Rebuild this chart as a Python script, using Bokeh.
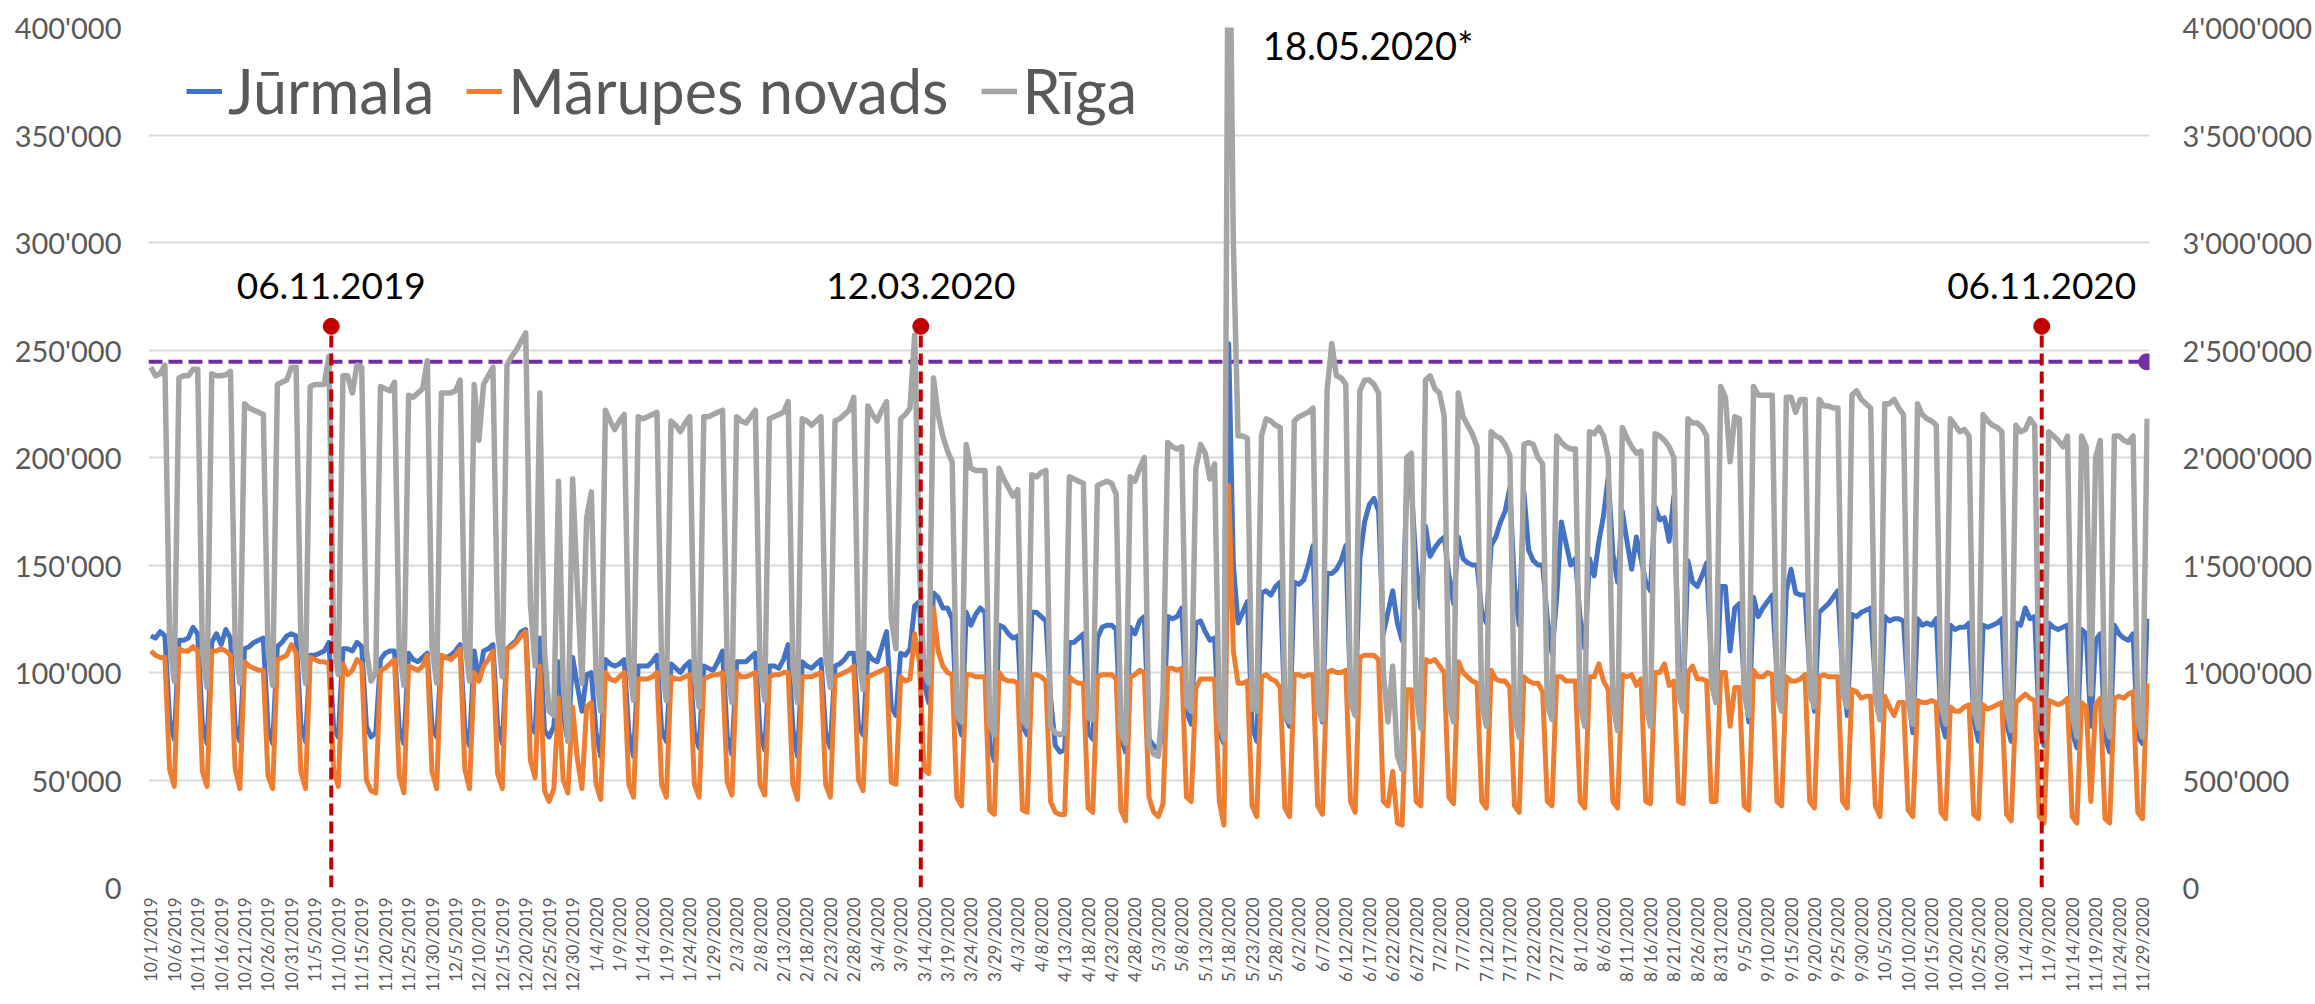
import math
import datetime as dt
from bokeh.plotting import figure
from bokeh.models import (Range1d, LinearAxis, FixedTicker, Legend, LegendItem,
                          ColumnDataSource)
from bokeh.embed import file_html
from bokeh.resources import INLINE
from bokeh.core.properties import value

# ---------------- data (thousands) ----------------
# daily values from Tue 01.10.2019 to Mon 30.11.2020, one line = one week (Mon..Sun)
jurmala = [
    117,116,119,117,78,69,
    115,115,116,121,118,76,67,
    114,118,113,120,116,75,68,
    111,112,114,115,116,74,67,
    112,114,117,118,117,76,68,
    108,108,109,110,114,74,70,
    111,111,110,114,112,75,70,
    72,106,109,110,110,74,67,
    109,106,105,107,109,75,70,
    107,107,108,110,113,74,66,
    110,96,110,111,113,75,67,
    111,113,115,119,120,75,72,
    116,73,70,75,105,80,68,
    107,94,82,99,100,72,61,
    106,104,103,104,106,72,61,
    103,103,103,105,108,73,68,
    104,102,100,103,105,72,65,
    103,102,101,105,110,70,62,
    105,105,105,107,109,72,64,
    103,103,102,106,113,74,61,
    105,103,102,104,106,72,65,
    103,104,106,109,109,75,71,
    109,106,105,112,119,84,80,
    109,108,111,131,133,95,86,
    137,135,130,130,125,80,71,
    128,122,127,130,128,66,59,
    122,121,118,116,117,75,71,
    128,128,126,124,88,66,63,
    64,114,114,116,118,72,69,
    116,121,122,122,120,70,63,
    121,118,124,126,69,66,64,
    72,126,125,126,130,82,76,
    123,124,119,115,116,72,67,
    253,150,123,128,133,75,68,
    137,138,136,140,142,80,75,
    142,141,143,150,159,85,77,
    146,146,148,152,159,90,84,
    153,170,178,181,175,118,128,
    138,123,115,188,185,150,130,
    168,154,158,161,163,145,132,
    163,153,151,150,150,128,123,
    159,163,170,175,186,140,122,
    184,157,152,150,150,125,109,
    135,170,160,150,153,125,111,
    153,145,161,173,191,155,142,
    175,161,148,163,153,142,138,
    177,171,172,161,182,110,88,
    152,142,140,145,151,105,86,
    140,140,110,130,132,95,77,
    135,126,130,133,136,100,84,
    138,148,137,136,136,100,82,
    128,130,132,135,138,100,80,
    127,126,128,129,130,95,78,
    126,124,125,125,124,90,72,
    125,122,123,122,125,78,70,
    122,120,121,121,123,78,68,
    122,121,122,123,125,76,68,
    123,122,130,125,126,74,66,
    123,121,120,121,122,72,65,
    120,118,75,115,118,70,63,
    122,118,116,115,118,70,67,
    125,
]

marupe = [
    110,108,107,107,55,47,
    111,110,110,112,110,54,47,
    110,110,111,110,108,55,46,
    105,103,102,101,101,52,46,
    106,107,108,113,109,54,46,
    107,106,105,105,104,55,47,
    104,99,101,106,104,50,45,
    44,101,102,104,106,52,44,
    103,102,101,103,108,54,46,
    108,107,106,108,111,55,46,
    100,96,103,106,110,53,46,
    111,112,114,117,119,59,51,
    103,45,40,46,88,50,44,
    84,60,46,84,86,48,41,
    100,97,96,98,100,48,42,
    97,97,97,98,100,48,42,
    98,97,97,98,99,48,42,
    97,98,99,99,100,49,43,
    100,98,98,99,100,48,43,
    98,99,99,100,100,48,41,
    98,98,98,99,100,48,42,
    98,99,100,101,103,50,45,
    98,99,100,101,102,49,48,
    98,96,97,118,105,55,53,
    130,110,103,100,99,42,38,
    99,99,98,98,98,36,34,
    100,97,96,96,95,36,35,
    99,99,98,96,40,35,34,
    34,98,96,95,95,37,35,
    98,99,99,99,97,36,31,
    98,99,101,100,42,35,33,
    39,102,102,101,102,42,40,
    93,97,97,97,97,40,29,
    187,110,95,95,96,38,33,
    98,99,97,96,93,37,33,
    99,99,98,99,99,38,34,
    100,101,100,100,101,40,35,
    107,108,108,108,106,40,38,
    54,30,29,92,92,40,38,
    106,105,106,103,100,42,39,
    105,100,98,96,95,40,37,
    101,97,96,96,93,38,35,
    98,96,95,95,91,40,38,
    98,98,96,96,96,40,37,
    98,98,104,96,92,40,37,
    99,98,99,94,97,40,39,
    100,100,104,94,96,40,39,
    100,103,97,97,96,40,40,
    100,100,75,93,93,38,36,
    101,98,98,100,99,40,38,
    98,96,96,97,99,40,37,
    98,99,98,98,98,40,37,
    92,91,88,89,89,38,33,
    89,84,80,86,86,36,33,
    87,86,86,87,86,35,32,
    84,82,82,84,85,34,32,
    85,83,84,85,86,34,31,
    86,88,90,88,87,33,30,
    87,86,85,86,88,33,30,
    86,84,40,85,88,32,30,
    88,89,88,90,91,35,32,
    95,
]

riga = [
    2420,2380,2390,2430,1150,960,
    2370,2380,2380,2410,2410,1100,930,
    2390,2380,2380,2385,2400,1120,950,
    2250,2230,2220,2210,2200,1100,940,
    2340,2350,2360,2420,2420,1150,950,
    2330,2340,2340,2340,2470,1150,990,
    2380,2380,2300,2430,2420,1100,960,
    1000,2330,2320,2310,2350,1100,940,
    2290,2280,2300,2320,2450,1120,950,
    2300,2300,2300,2310,2360,1150,960,
    2340,2080,2340,2380,2420,1200,980,
    2430,2470,2500,2540,2580,1320,1030,
    2300,1100,820,800,1890,950,680,
    1900,1400,950,1720,1840,1000,820,
    2220,2170,2130,2170,2200,1050,870,
    2190,2180,2190,2200,2210,1030,870,
    2170,2150,2120,2160,2190,1000,840,
    2190,2190,2200,2210,2220,1020,860,
    2190,2170,2160,2190,2220,1020,870,
    2180,2190,2200,2210,2260,1030,860,
    2180,2170,2150,2170,2190,1080,930,
    2170,2180,2200,2220,2280,1080,920,
    2240,2200,2170,2220,2260,1250,1110,
    2180,2200,2230,2570,1500,1000,950,
    2370,2200,2100,2030,1980,800,770,
    2060,1950,1940,1940,1940,760,710,
    1950,1900,1860,1820,1850,780,750,
    1920,1910,1930,1940,750,720,710,
    720,1910,1900,1890,1880,790,780,
    1870,1880,1890,1880,1830,720,670,
    1910,1890,1950,2000,660,620,610,
    900,2070,2050,2040,2050,850,820,
    1950,2060,2020,1900,1970,780,690,
    5000,3000,2100,2100,2090,830,820,
    2100,2180,2170,2150,2140,800,770,
    2170,2190,2200,2210,2230,830,780,
    2310,2530,2380,2370,2340,860,800,
    2310,2360,2360,2340,2300,1000,770,
    1030,610,550,2000,2020,900,740,
    2360,2380,2320,2300,2190,850,770,
    2300,2190,2150,2110,2050,850,750,
    2120,2100,2090,2060,2010,800,700,
    2060,2070,2060,2000,1970,850,780,
    2100,2070,2050,2040,2040,850,750,
    2120,2110,2140,2100,2000,850,730,
    2140,2090,2050,2020,2030,850,750,
    2110,2100,2080,2050,2000,900,820,
    2180,2160,2160,2140,2100,950,860,
    2330,2280,1980,2190,2180,900,800,
    2330,2290,2290,2290,2290,900,820,
    2280,2280,2210,2270,2270,900,840,
    2270,2240,2240,2230,2230,900,840,
    2290,2310,2270,2250,2230,880,780,
    2250,2250,2270,2230,2200,850,760,
    2250,2200,2180,2170,2150,850,760,
    2180,2150,2120,2130,2100,830,740,
    2200,2170,2150,2140,2120,830,730,
    2150,2120,2130,2180,2150,820,700,
    2120,2100,2080,2050,2100,800,700,
    2100,2050,900,2000,2080,780,700,
    2100,2100,2080,2070,2100,780,700,
    2180,
]

series_names = ["Jūrmala", "Mārupes novads", "Rīga"]
left_ticks = [0, 50000, 100000, 150000, 200000, 250000, 300000, 350000, 400000]
right_ticks = [0, 500000, 1000000, 1500000, 2000000, 2500000, 3000000, 3500000, 4000000]

# annotations (day index from 01.10.2019, left-axis value)
mark_x = [38.5, 164.3, 403.5]
mark_text = ["06.11.2019", "12.03.2020", "06.11.2020"]
mark_top = 261000
threshold = 244500          # purple level (left axis units) = 2'445'000 on right axis
spike_text = "18.05.2020*"
spike_x = 237.3
spike_y = 392000

FONT = "Lato"
GREY = "#595959"

n = len(jurmala)
start = dt.date(2019, 10, 1)
dates = [start + dt.timedelta(days=i) for i in range(n)]
xlab = {i: f"{d.month}/{d.day}/{d.year}" for i, d in enumerate(dates) if i % 5 == 0}

def fmt(v):
    return f"{v:,}".replace(",", "'")

src = ColumnDataSource(dict(
    x=list(range(n)),
    j=[v * 1000 for v in jurmala],
    m=[v * 1000 for v in marupe],
    r=[v * 1000 for v in riga],
))

W, H = 2315, 1004
p = figure(width=W, height=H, output_backend="svg", toolbar_location=None,
           x_range=Range1d(-0.5, n - 0.5), y_range=Range1d(0, 400000),
           min_border_left=148, min_border_right=166, min_border_top=27,
           min_border_bottom=117)
p.extra_y_ranges = {"right": Range1d(0, 4000000)}
p.outline_line_color = None
p.background_fill_color = "white"
p.border_fill_color = "white"

# grid
p.xgrid.visible = False
p.ygrid.ticker = FixedTicker(ticks=left_ticks)
p.ygrid.grid_line_color = "#D9D9D9"
p.ygrid.grid_line_width = 2

# left axis
ya = p.yaxis[0]
ya.ticker = FixedTicker(ticks=left_ticks)
ya.major_label_overrides = {t: fmt(t) for t in left_ticks}
# right axis
ra = LinearAxis(y_range_name="right", ticker=FixedTicker(ticks=right_ticks))
ra.major_label_overrides = {t: fmt(t) for t in right_ticks}
p.add_layout(ra, "right")
for ax in (ya, ra):
    ax.axis_line_color = None
    ax.major_tick_line_color = None
    ax.minor_tick_line_color = None
    ax.major_tick_out = 0
    ax.major_label_text_font = FONT
    ax.major_label_text_font_size = "29px"
    ax.major_label_text_color = GREY
ya.major_label_standoff = 27
ra.major_label_standoff = 33

# x axis
xa = p.xaxis[0]
xa.ticker = FixedTicker(ticks=sorted(xlab.keys()))
xa.major_label_overrides = xlab
xa.major_label_orientation = math.pi / 2
xa.axis_line_color = None
xa.major_tick_line_color = None
xa.minor_tick_line_color = None
xa.major_tick_out = 0
xa.major_label_standoff = 10
xa.major_label_text_font = FONT
xa.major_label_text_font_size = "17px"
xa.major_label_text_color = GREY

# threshold line and end marker
p.line(x=[-0.5, 425.9], y=[threshold, threshold], line_color="#7030A0",
       line_width=4, line_dash="14 6")
p.scatter(x=[425.9], y=[threshold], size=16, color="#7030A0")

# series
rj = p.line("x", "j", source=src, line_color="#4472C4", line_width=5, line_join="round")
rm = p.line("x", "m", source=src, line_color="#ED7D31", line_width=5, line_join="round")
rr = p.line("x", "r", source=src, line_color="#A5A5A5", line_width=5.5, line_join="round",
            y_range_name="right")

# red date markers
p.segment(x0=mark_x, y0=[0] * 3, x1=mark_x, y1=[mark_top] * 3,
          line_color="#C00000", line_width=4, line_dash="12 6")
p.scatter(x=mark_x, y=[mark_top] * 3, size=16, color="#C00000")
p.text(x=mark_x, y=[280000] * 3, text=mark_text, text_align="center",
       text_baseline="middle", text_font=value(FONT), text_font_size="37px",
       text_color="black")
p.text(x=[spike_x], y=[spike_y], text=[spike_text], text_align="left",
       text_baseline="middle", text_font=value(FONT), text_font_size="38px",
       text_color="black")

legend = Legend(items=[LegendItem(label=series_names[0], renderers=[rj]),
                       LegendItem(label=series_names[1], renderers=[rm]),
                       LegendItem(label=series_names[2], renderers=[rr])],
                orientation="horizontal", location=(38, 760))
legend.label_text_font = FONT
legend.label_text_font_size = "61px"
legend.label_text_color = GREY
legend.glyph_width = 36
legend.glyph_height = 60
legend.label_standoff = 6
legend.spacing = 32
legend.padding = 0
legend.margin = 0
legend.border_line_color = None
legend.background_fill_alpha = 0
p.add_layout(legend)

open("out.html", "w").write(file_html(p, INLINE))
